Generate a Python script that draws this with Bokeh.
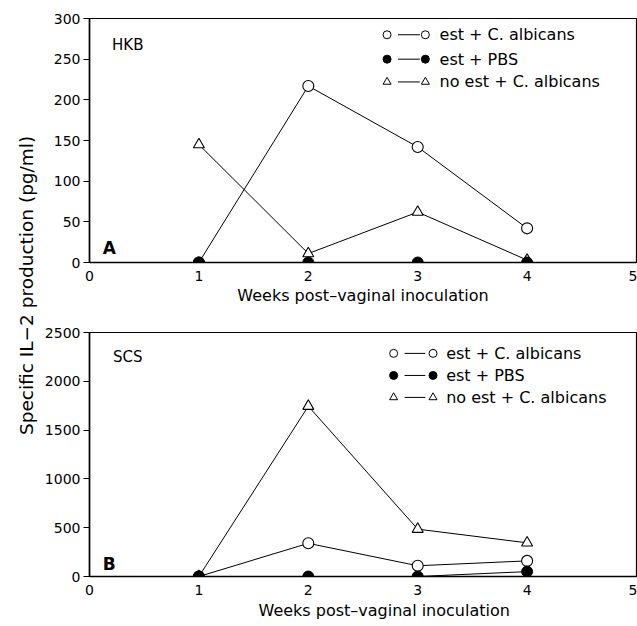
import math
from bokeh.plotting import figure
from bokeh.layouts import row, column
from bokeh.models import Label, Range1d, FixedTicker, Title
from bokeh.embed import file_html
from bokeh.resources import INLINE

# ---- data ----
weeks = [1, 2, 3, 4]
hkb_est_calb = [0, 217, 142, 42]
hkb_est_pbs = [0, 0, 0, 0]
hkb_noest_calb = [145, 11, 62, 3]

scs_est_calb = [0, 340, 110, 160]
scs_est_pbs = [0, 0, 0, 50]
scs_noest_calb = [0, 1745, 485, 345]

legend_labels = ["est + C. albicans", "est + PBS", "no est + C. albicans"]
x_ticks = [0, 1, 2, 3, 4, 5]
hkb_yticks = [0, 50, 100, 150, 200, 250, 300]
scs_yticks = [0, 500, 1000, 1500, 2000, 2500]
x_title = "Weeks post\u2013vaginal inoculation"
y_title = "Specific IL\u22122  production (pg/ml)"

FONT = "DejaVu Sans"
FS = "14px"


def make_panel(ymax, yticks, series, panel_name, letter, legend_rows,
               top_border, bottom_border, tick_standoff, label_standoff, axis_title):
    p = figure(frame_width=547, frame_height=244, output_backend="svg", toolbar_location=None,
               x_range=Range1d(0, 5), y_range=Range1d(0, ymax),
               min_border_left=48, min_border_right=1,
               min_border_top=top_border, min_border_bottom=bottom_border)
    p.grid.visible = False
    p.outline_line_color = "black"
    p.outline_line_width = 1.2
    p.background_fill_color = "white"
    p.border_fill_color = "white"

    p.xaxis.ticker = FixedTicker(ticks=x_ticks)
    p.yaxis.ticker = FixedTicker(ticks=yticks)
    if axis_title:
        p.xaxis.axis_label = x_title
    for ax in (p.xaxis, p.yaxis):
        ax.axis_line_color = "black"
        ax.axis_line_width = 1.6
        ax.major_tick_line_color = "black"
        ax.major_tick_line_width = 1.2
        ax.minor_tick_line_color = None
        ax.major_label_text_font = FONT
        ax.major_label_text_font_size = FS
        ax.major_label_text_color = "black"
        ax.axis_label_text_font = FONT
        ax.axis_label_text_font_size = "16px"
        ax.axis_label_text_font_style = "normal"
        ax.axis_label_text_color = "black"
    p.xaxis.major_tick_in = 0
    p.xaxis.major_tick_out = 0
    p.xaxis.major_label_standoff = tick_standoff
    p.xaxis.axis_label_standoff = label_standoff
    p.yaxis.major_tick_in = 0
    p.yaxis.major_tick_out = 6
    p.yaxis.major_label_standoff = 3

    est_calb, est_pbs, noest_calb = series
    # lines
    p.line(weeks, noest_calb, line_color="black", line_width=1)
    p.line(weeks, est_calb, line_color="black", line_width=1)
    p.line(weeks, est_pbs, line_color="black", line_width=1)
    # markers
    p.scatter(weeks, noest_calb, marker="triangle", size=11, fill_color="white",
              line_color="black", line_width=1.1)
    p.scatter(weeks, est_calb, marker="circle", size=11, fill_color="white",
              line_color="black", line_width=1.1)
    p.scatter(weeks, est_pbs, marker="circle", size=11, fill_color="black",
              line_color="black")

    # panel labels
    p.add_layout(Label(x=0.35, y=panel_name[1], text=panel_name[0], text_align="center",
                       text_baseline="middle", text_font=FONT, text_font_size="15px",
                       text_color="black"))
    p.add_layout(Label(x=letter[1], y=letter[2], text=letter[0], text_align="left",
                       text_baseline="middle", text_font=FONT, text_font_size="17px",
                       text_font_style="bold", text_color="black"))

    # legend
    xl, xr, x_line0, x_line1, x_text, ys = legend_rows
    styles = [("circle", "white"), ("circle", "black"), ("triangle", "white")]
    for (mk, fc), lab, yy in zip(styles, legend_labels, ys):
        p.line([x_line0, x_line1], [yy, yy], line_color="black", line_width=1)
        p.scatter([xl, xr], [yy, yy], marker=mk, size=8, fill_color=fc,
                  line_color="black", line_width=1)
        p.add_layout(Label(x=x_text, y=yy, text=lab, text_align="left",
                           text_baseline="middle", text_font=FONT, text_font_size="16px",
                           text_color="black"))
    return p


p1 = make_panel(300, hkb_yticks, (hkb_est_calb, hkb_est_pbs, hkb_noest_calb),
                ("HKB", 268), ("A", 0.12, 18),
                (2.72, 3.07, 2.82, 3.02, 3.2, [280, 250, 222]),
                top_border=18, bottom_border=48,
                tick_standoff=8, label_standoff=2, axis_title=True)
p2 = make_panel(2500, scs_yticks, (scs_est_calb, scs_est_pbs, scs_noest_calb),
                ("SCS", 2245), ("B", 0.12, 133),
                (2.78, 3.14, 2.88, 3.07, 3.26, [2286, 2060, 1835]),
                top_border=22, bottom_border=48,
                tick_standoff=8, label_standoff=4, axis_title=False)
# bottom panel's axis title sits right of centre in the original
p2.add_layout(Title(text=x_title, align="left", offset=169, standoff=2,
                    text_font=FONT, text_font_size="16px", text_font_style="normal",
                    text_color="black"), "below")

lab = figure(width=41, height=624, output_backend="svg", toolbar_location=None,
             x_range=Range1d(0, 41), y_range=Range1d(0, 624),
             min_border=0, outline_line_color=None)
lab.axis.visible = False
lab.grid.visible = False
lab.add_layout(Label(x=26, y=342, text=y_title,
                     angle=math.pi / 2, text_align="center", text_baseline="middle",
                     text_font=FONT, text_font_size="18.5px", text_color="black"))

layout = row(lab, column(p1, p2))
open("out.html", "w").write(file_html(layout, INLINE))
